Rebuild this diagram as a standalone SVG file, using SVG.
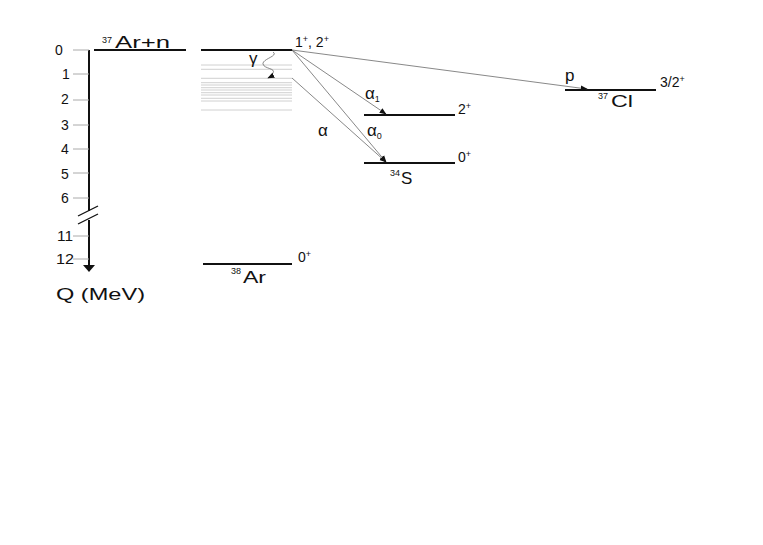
<svg xmlns="http://www.w3.org/2000/svg" width="763" height="545" viewBox="0 0 763 545">
<defs>
<style>
text{font-family:"Liberation Sans","DejaVu Sans",sans-serif;fill:#111}
.lbl{font-size:14px}
.big{font-size:17px}
.sup{font-size:9px}
.lvl{stroke:#111;stroke-width:1.8;fill:none}
.cont{stroke:#c4c4c4;stroke-width:0.8}
.tick{stroke:#aaa;stroke-width:1}
.tr{stroke:#555;stroke-width:0.7;fill:none}
</style>
<marker id="ah" viewBox="0 0 10 10" refX="9" refY="5" markerWidth="7" markerHeight="7" markerUnits="userSpaceOnUse" orient="auto">
<path d="M0,1 L10,5 L0,9 Z" fill="#111"/>
</marker>
</defs>
<rect width="763" height="545" fill="#fff"/>
<g id="axis">
<line x1="89" y1="50" x2="89" y2="211" stroke="#111" stroke-width="2"/>
<line x1="89" y1="220" x2="89" y2="266" stroke="#111" stroke-width="2"/>
<path d="M83,265 L95,265 L89,272 Z" fill="#111"/>
<line x1="78" y1="216" x2="98" y2="206" stroke="#111" stroke-width="1.3"/>
<line x1="78" y1="224" x2="98" y2="214" stroke="#111" stroke-width="1.3"/>
<line class="tick" x1="73" y1="50" x2="89" y2="50"/>
<line class="tick" x1="73" y1="74" x2="89" y2="74"/>
<line class="tick" x1="73" y1="100" x2="89" y2="100"/>
<line class="tick" x1="73" y1="125" x2="89" y2="125"/>
<line class="tick" x1="73" y1="149" x2="89" y2="149"/>
<line class="tick" x1="73" y1="173" x2="89" y2="173"/>
<line class="tick" x1="73" y1="198" x2="89" y2="198"/>
<line class="tick" x1="73" y1="236" x2="89" y2="236"/>
<line class="tick" x1="73" y1="259" x2="89" y2="259"/>
<text class="lbl" x="55" y="55">0</text>
<text class="lbl" x="62" y="79">1</text>
<text class="lbl" x="61" y="104">2</text>
<text class="lbl" x="61" y="130">3</text>
<text class="lbl" x="61" y="154">4</text>
<text class="lbl" x="61" y="179">5</text>
<text class="lbl" x="61" y="203">6</text>
<text class="lbl" x="57" y="241" textLength="16" lengthAdjust="spacingAndGlyphs">11</text>
<text class="lbl" x="56" y="264" textLength="18" lengthAdjust="spacingAndGlyphs">12</text>
<text class="big" x="56" y="300" textLength="89" lengthAdjust="spacingAndGlyphs">Q (MeV)</text>
</g>
<g id="ar37n">
<line class="lvl" x1="94" y1="50" x2="186" y2="50"/>
<text x="102" y="43"><tspan class="sup">37</tspan></text>
<text class="big" x="115" y="48" textLength="55" lengthAdjust="spacingAndGlyphs">Ar+n</text>
</g>
<g id="ar38-compound">
<line class="lvl" x1="201" y1="50" x2="292" y2="50"/>
<text class="lbl" x="295" y="47">1<tspan class="sup" dy="-5">+</tspan><tspan dy="5">, 2</tspan><tspan class="sup" dy="-5">+</tspan></text>
<g>
<line class="cont" x1="201" y1="65" x2="292" y2="65"/>
<line class="cont" x1="201" y1="69.3" x2="292" y2="69.3"/>
<line class="cont" x1="201" y1="78.3" x2="292" y2="78.3"/>
<line class="cont" x1="201" y1="82.7" x2="292" y2="82.7"/>
<line class="cont" x1="201" y1="85" x2="292" y2="85"/>
<line class="cont" x1="201" y1="87.7" x2="292" y2="87.7"/>
<line class="cont" x1="201" y1="90" x2="292" y2="90"/>
<line class="cont" x1="201" y1="92.7" x2="292" y2="92.7"/>
<line class="cont" x1="201" y1="95" x2="292" y2="95"/>
<line class="cont" x1="201" y1="98.3" x2="292" y2="98.3"/>
<line class="cont" x1="201" y1="101" x2="292" y2="101"/>
<line class="cont" x1="201" y1="110" x2="292" y2="110"/>
</g>
</g>
<g id="ar38">
<line class="lvl" x1="203" y1="264" x2="292" y2="264"/>
<text class="lbl" x="298" y="262">0<tspan class="sup" dy="-5">+</tspan></text>
<text x="231" y="274"><tspan class="sup">38</tspan></text>
<text class="big" x="243" y="283" textLength="23" lengthAdjust="spacingAndGlyphs">Ar</text>
</g>
<g id="s34">
<line class="lvl" x1="364" y1="115" x2="455" y2="115"/>
<text class="lbl" x="458" y="114">2<tspan class="sup" dy="-5">+</tspan></text>
<line class="lvl" x1="364" y1="163" x2="455" y2="163"/>
<text class="lbl" x="458" y="162">0<tspan class="sup" dy="-5">+</tspan></text>
<text x="390" y="176"><tspan class="sup">34</tspan></text>
<text class="big" x="401" y="184">S</text>
</g>
<g id="cl37">
<line class="lvl" x1="565" y1="90" x2="656" y2="90"/>
<text class="lbl" x="660" y="87">3/2<tspan class="sup" dy="-5">+</tspan></text>
<text x="598" y="99"><tspan class="sup">37</tspan></text>
<text class="big" x="611" y="107" textLength="22" lengthAdjust="spacingAndGlyphs">Cl</text>
</g>
<g id="connectors">
<line class="tr" x1="292" y1="50" x2="587" y2="89" marker-end="url(#ah)"/>
<line class="tr" x1="292" y1="50" x2="386" y2="114" marker-end="url(#ah)"/>
<line class="tr" x1="292" y1="50" x2="386" y2="162" marker-end="url(#ah)"/>
<line class="tr" x1="292" y1="78" x2="386" y2="162" marker-end="url(#ah)"/>
<path class="tr" d="M273,52 C279,56 262,59 263,64 C264,69 276,68 273,73 C271,76 270,77 268,78" marker-end="url(#ah)"/>
<text class="big" x="249" y="64">γ</text>
<text class="big" x="565" y="81">p</text>
<text class="big" x="365" y="99">α<tspan class="sup" dy="3">1</tspan></text>
<text class="big" x="367" y="136">α<tspan class="sup" dy="3">0</tspan></text>
<text class="big" x="318" y="136">α</text>
</g>
</svg>
